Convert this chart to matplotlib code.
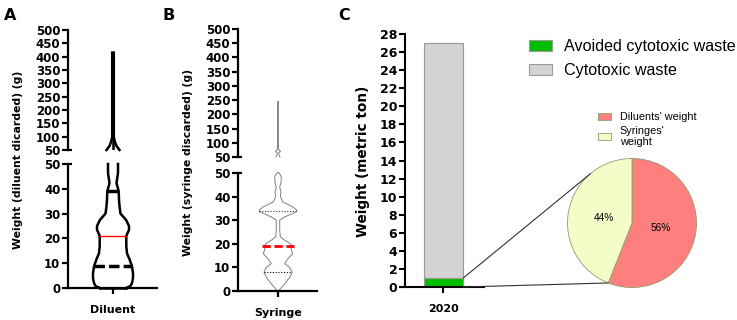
import matplotlib
matplotlib.use("Agg")
import matplotlib.pyplot as plt
import numpy as np
from matplotlib.patches import ConnectionPatch

plt.rcParams['font.family'] = 'DejaVu Sans'
plt.rcParams['font.weight'] = 'bold'

# ---- data ----
# panel A: diluent discarded (g), violin outline as (level, half-width)
dil_y = np.array([0, 0.8, 2, 4, 6, 8.7, 11.4, 14, 16.8, 21, 23.5, 25, 27.5, 30, 33, 35.6, 39, 42.3, 46.4, 50])
dil_hw = np.array([13, 17.5, 19, 20, 20, 19, 16.7, 14, 13.3, 13.3, 16, 16, 13, 7.5, 6.5, 6, 5.7, 3.5, 5, 5])
dil_up_y = np.array([50, 55, 65, 80, 95, 100, 415])
dil_up_hw = np.array([6.5, 5.5, 3.5, 2, 1, 0.8, 0.8])
dil_q1, dil_med, dil_q3 = 9, 21, 39

# panel B: syringe discarded (g)
syr_y = np.array([0, 0.3, 3, 6, 8, 10, 11.6, 13.7, 15.8, 18, 19, 20.5, 21.5, 23, 25.7, 30, 31.4,
                  33.5, 34.2, 35.6, 37.7, 40, 42, 44, 46, 48.3, 49.7, 50.3])
syr_hw = np.array([0, 1, 6.7, 12, 14, 11.7, 6.7, 10, 14.7, 13, 14, 11, 6.7, 2.3, 1.7, 1.7, 6.7,
                   18, 19, 15, 5, 2.3, 3, 1.7, 3, 3.3, 1.7, 0])
syr_up_y = np.array([50, 58, 65, 70, 75, 85, 100, 245])
syr_up_hw = np.array([2, 1, 0.8, 2.5, 0.8, 0.5, 0.4, 0.4])
syr_q1, syr_med, syr_q3 = 8, 19, 34

# panel C: weight (metric ton)
years = ['2020']
avoided = [1.0]
cytotoxic = [26.0]
pie_labels = ["Diluents' weight", "Syringes'\nweight"]
pie_vals = [56, 44]

W, H = 737, 320
fig = plt.figure(figsize=(W / 100, H / 100), dpi=100)


def px_axes(l, t, r, b):
    return fig.add_axes([l / W, 1 - b / H, (r - l) / W, (b - t) / H])


def style(ax, bottom=False, lw=1.6, size=8.5):
    for s in ['top', 'right']:
        ax.spines[s].set_visible(False)
    ax.spines['bottom'].set_visible(bottom)
    ax.spines['left'].set_linewidth(lw)
    ax.spines['bottom'].set_linewidth(lw)
    ax.tick_params(axis='y', length=4, width=lw, pad=1.5, labelsize=size)
    ax.tick_params(axis='x', length=4, width=lw, pad=8, labelsize=8)
    ax.patch.set_alpha(0)


def break_mark(ax, y, lw=1.6):
    ax.plot([0, 0.05], [y, y], transform=ax.get_yaxis_transform(), color='k',
            lw=lw, clip_on=False, solid_capstyle='butt')


# ---- panel A ----
axA_up = px_axes(68, 30, 157, 150)
axA_lo = px_axes(68, 164, 157, 288)
for ax in (axA_up, axA_lo):
    ax.set_xlim(-45, 44)
axA_up.set_ylim(50, 500)
axA_up.set_yticks(np.arange(50, 501, 50))
axA_up.set_xticks([])
style(axA_up)
break_mark(axA_up, 50)
axA_lo.set_ylim(0, 50)
axA_lo.set_yticks(np.arange(0, 51, 10))
axA_lo.set_xticks([0])
axA_lo.set_xticklabels(['Diluent'])
style(axA_lo, bottom=True)
break_mark(axA_lo, 50)

k = dict(color='black', lw=1.8, clip_on=False)
axA_lo.plot(-dil_hw, dil_y, **k)
axA_lo.plot(dil_hw, dil_y, **k)
axA_lo.plot([-dil_hw[0], dil_hw[0]], [0, 0], **k)
axA_up.plot(-dil_up_hw, dil_up_y, **k)
axA_up.plot(dil_up_hw, dil_up_y, **k)
axA_up.plot([0, 0], [dil_up_y[0], dil_up_y[-1]], color='black', lw=1.8)
for q, c, lw, ls in [(dil_q1, 'black', 2.5, (0, (3, 1.2))), (dil_med, 'red', 1.0, '-'),
                     (dil_q3, 'black', 2.5, (0, (3, 1.2)))]:
    w = np.interp(q, dil_y, dil_hw)
    axA_lo.plot([-w, w], [q, q], color=c, lw=lw, linestyle=ls)

# ---- panel B ----
axB_up = px_axes(238, 29, 317, 157)
axB_lo = px_axes(238, 173, 317, 291)
for ax in (axB_up, axB_lo):
    ax.set_xlim(-40, 39)
axB_up.set_ylim(50, 500)
axB_up.set_yticks(np.arange(50, 501, 50))
axB_up.set_xticks([])
style(axB_up)
break_mark(axB_up, 50)
axB_lo.set_ylim(0, 50)
axB_lo.set_yticks(np.arange(0, 51, 10))
axB_lo.set_xticks([0])
axB_lo.set_xticklabels(['Syringe'])
style(axB_lo, bottom=True)
break_mark(axB_lo, 50)

g = dict(color='#808080', lw=0.7, clip_on=False)
axB_lo.plot(-syr_hw, syr_y, **g)
axB_lo.plot(syr_hw, syr_y, **g)
axB_up.plot(-syr_up_hw, syr_up_y, **g)
axB_up.plot(syr_up_hw, syr_up_y, **g)
for q, c, lw, ls in [(syr_q1, 'black', 0.8, (0, (1, 1.5))), (syr_med, 'red', 2.0, (0, (3, 1.3))),
                     (syr_q3, '#333333', 0.8, (0, (1, 1.5)))]:
    w = np.interp(q, syr_y, syr_hw)
    if q == syr_med:
        w += 2
    axB_lo.plot([-w, w], [q, q], color=c, lw=lw, linestyle=ls)

# ---- panel C ----
axC = px_axes(405, 34, 484, 287)
xpos = np.arange(len(years))
bw = 0.98
b_green = axC.bar(xpos, avoided, width=bw, color='#00BF00', edgecolor='#9a9a9a', lw=0.8)
b_gray = axC.bar(xpos, cytotoxic, width=bw, bottom=avoided, color='#D3D3D3',
                 edgecolor='#9a9a9a', lw=0.8)
axC.set_xlim(-0.95, 1.0)
axC.set_ylim(0, 28)
axC.set_yticks(np.arange(0, 29, 2))
axC.set_xticks(xpos)
axC.set_xticklabels(years)
style(axC, bottom=True, lw=1.5, size=9)

fig.legend([b_green, b_gray], ['Avoided cytotoxic waste', 'Cytotoxic waste'],
           loc='upper left', bbox_to_anchor=(529 / W, 1 - 39 / H), frameon=False,
           prop={'family': 'Liberation Sans', 'weight': 'normal', 'size': 11.6},
           handlelength=1.4, handleheight=0.7, handletextpad=0.75, labelspacing=0.55,
           borderpad=0, borderaxespad=0)

# pie
axP = px_axes(567.5, 158.5, 696.5, 287.5)
wedges, _, autot = axP.pie(pie_vals, colors=['#FF7F7F', '#F4FCC8'], startangle=90,
                           counterclock=False, autopct='%.0f%%', pctdistance=0.45,
                           wedgeprops=dict(edgecolor='#8E9E6E', lw=0.6),
                           textprops=dict(family='Liberation Sans', weight='normal', size=7.3))
axP.set_xlim(-1, 1)
axP.set_ylim(-1, 1)
fig.legend(wedges, pie_labels, loc='upper left', bbox_to_anchor=(598 / W, 1 - 112 / H),
           frameon=False, prop={'family': 'Liberation Sans', 'weight': 'normal', 'size': 7.8},
           handlelength=1.2, handleheight=0.6, handletextpad=0.8, labelspacing=0.35,
           borderpad=0, borderaxespad=0)

# zoom lines from bar to pie
bar_right = xpos[0] + bw / 2
a_low = np.deg2rad(90 - 360 * pie_vals[0] / sum(pie_vals))
a_up = np.deg2rad(130)
for ya, ang in [(avoided[0], a_up), (0, a_low)]:
    con = ConnectionPatch(xyA=(bar_right, ya), coordsA=axC.transData,
                          xyB=(np.cos(ang), np.sin(ang)), coordsB=axP.transData,
                          color='#333333', lw=0.8)
    fig.add_artist(con)

# axis titles and panel letters
fig.text(18 / W, 1 - 160 / H, 'Weight (diluent dicarded) (g)', rotation=90,
         ha='center', va='center', fontsize=7.8)
fig.text(188 / W, 1 - 162 / H, 'Weight (syringe discarded) (g)', rotation=90,
         ha='center', va='center', fontsize=7.8)
fig.text(363 / W, 1 - 161 / H, 'Weight (metric ton)', rotation=90,
         ha='center', va='center', fontsize=9.8)
for x, s in [(4, 'A'), (163, 'B'), (338, 'C')]:
    fig.text(x / W, 1 - 16 / H, s, ha='left', va='center', fontsize=11.5)

fig.savefig('out.png', dpi=100)
